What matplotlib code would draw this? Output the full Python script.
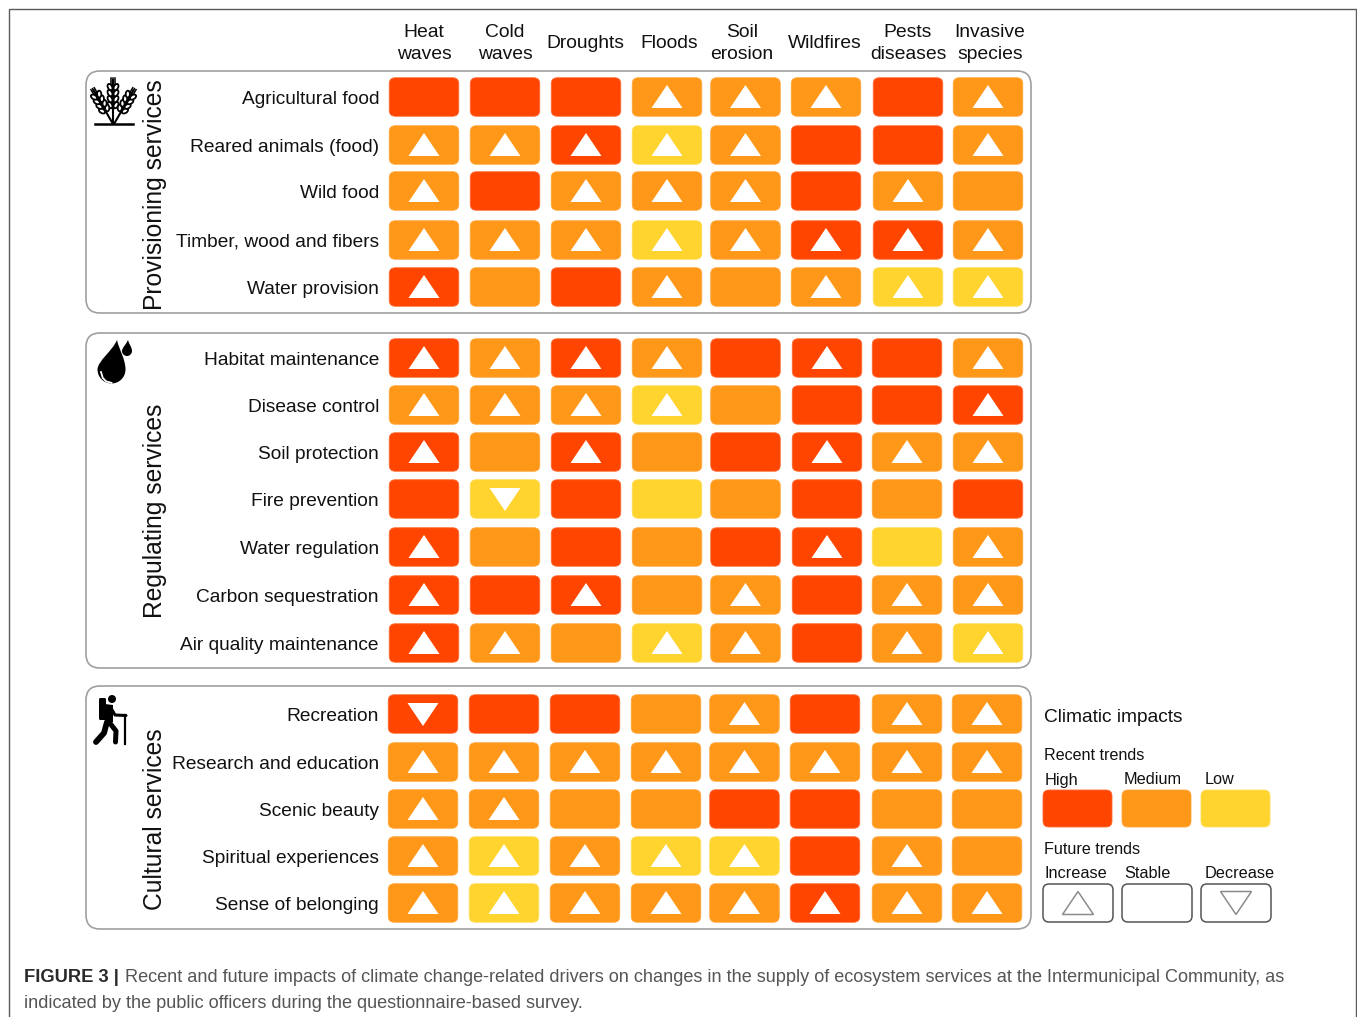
import numpy as np
import matplotlib
matplotlib.use("Agg")
import matplotlib.pyplot as plt
from matplotlib.patches import FancyBboxPatch, Polygon, Ellipse, Circle, PathPatch
from matplotlib.path import Path

plt.rcParams['font.family'] = ['Liberation Sans', 'DejaVu Sans']

# ---------- data ----------
drivers = ["Heat\nwaves", "Cold\nwaves", "Droughts", "Floods", "Soil\nerosion", "Wildfires", "Pests\ndiseases", "Invasive\nspecies"]

provisioning_services = ["Agricultural food", "Reared animals (food)", "Wild food", "Timber, wood and fibers", "Water provision"]
provisioning_impact = ["HHHMMMHM", "MMHLMHHM", "MHMMMHMM", "MMMLMHHM", "HMHMMMLL"]
provisioning_trend = ["SSSUUUSU", "UUUUUSSU", "USUUUSUS", "UUUUUUUU", "USSUSUUU"]

regulating_services = ["Habitat maintenance", "Disease control", "Soil protection", "Fire prevention", "Water regulation", "Carbon sequestration", "Air quality maintenance"]
regulating_impact = ["HMHMHHHM", "MMMLMHHH", "HMHMHHMM", "HLHLMHMH", "HMHMHHLM", "HHHMMHMM", "HMMLMHML"]
regulating_trend = ["UUUUSUSU", "UUUUSSSU", "USUSSUUU", "SDSSSSSS", "USSSSUSU", "USUSUSUU", "UUSUUSUU"]

cultural_services = ["Recreation", "Research and education", "Scenic beauty", "Spiritual experiences", "Sense of belonging"]
cultural_impact = ["HHHMMHMM", "MMMMMMMM", "MMMMHHMM", "MLMLLHMM", "MLMMMHMM"]
cultural_trend = ["DSSSUSUU", "UUUUUUUU", "UUSSSSSS", "UUUUUSUS", "UUUUUUUU"]

colors = {"H": "#FF4500", "M": "#FF9819", "L": "#FFD42E"}
edge_tint = {"H": "#FF6A33", "M": "#FFA63A", "L": "#FFDC55"}

# ---------- layout (pixels) ----------
W, H = 1357, 1017
fig = plt.figure(figsize=(W / 100, H / 100), dpi=100)
ax = fig.add_axes([0, 0, 1, 1])
ax.set_xlim(0, W)
ax.set_ylim(H, 0)
ax.axis("off")

col_x = [424, 505, 586, 667, 745.5, 826, 908, 988]
cell_w, cell_h = 69.5, 38.5
label_fs = 13.8
dark = "#111111"


def rbox(x0, y0, x1, y1, r, fc, ec, lw=1.0, z=2):
    p = FancyBboxPatch((x0, y0), x1 - x0, y1 - y0, boxstyle=f"round,pad=0,rounding_size={r}",
                       fc=fc, ec=ec, lw=lw, zorder=z)
    ax.add_patch(p)


def tri(cx, cy, up=True, w=31, h=23, fc="white", ec="none", lw=0.0, z=3):
    s = 1 if up else -1
    pts = [(cx, cy - s * h / 2), (cx - w / 2, cy + s * h / 2), (cx + w / 2, cy + s * h / 2)]
    ax.add_patch(Polygon(pts, closed=True, fc=fc, ec=ec, lw=lw, zorder=z, joinstyle="miter"))


def panel(y0, y1, rows_y, services, impact, trend, dx=0, col_dx=None):
    rbox(86, y0, 1031, y1, 14, "white", "#A0A0A0", lw=1.2, z=1)
    for i, (name, cy) in enumerate(zip(services, rows_y)):
        ax.text(379, cy + 2.3, name, ha="right", va="center", fontsize=label_fs, color=dark, zorder=4)
        for j, cx0 in enumerate(col_x):
            cx = cx0 + dx + (col_dx[j] if col_dx else 0)
            lv, tr = impact[i][j], trend[i][j]
            rbox(cx - cell_w / 2, cy - cell_h / 2, cx + cell_w / 2, cy + cell_h / 2, 6,
                 colors[lv], edge_tint[lv], lw=0.6)
            if tr == "U":
                tri(cx, cy - 0.5, True)
            elif tr == "D":
                tri(cx, cy + 0.5, False)


# outer figure frame
ax.plot([8.5, 8.5, 1356, 1356], [H, 9, 9, H], color="#5A5A5A", lw=1.0, zorder=0)

# column headers
header_x = [424, 505, 585, 669, 742, 825, 908, 990]
for name, x in zip(drivers, header_x):
    ax.text(x, 43.5, name, ha="center", va="center", fontsize=13.9, color=dark, linespacing=1.46, multialignment="center")

panel(71, 313, [97, 145, 191, 240, 287], provisioning_services, provisioning_impact, provisioning_trend)
panel(333, 668, [358, 405, 452, 499, 547, 595, 643], regulating_services, regulating_impact, regulating_trend,
      col_dx=[0, 0, 0, 0, 0, 1, -1, 0])
panel(686, 929, [714, 762, 809, 856, 903], cultural_services, cultural_impact, cultural_trend, dx=-1)

# group labels
for txt, cy in [("Provisioning services", 195), ("Regulating services", 511), ("Cultural services", 819.5)]:
    ax.text(155, cy, txt, rotation=90, ha="center", va="center", fontsize=17.7, color=dark, zorder=4)


# ---------- icons ----------
def wheat_ear(x0, y0, angle, length):
    """Ear of wheat growing from (x0, y0); angle in degrees from vertical."""
    a = np.radians(angle)
    ux, uy = np.sin(a), -np.cos(a)
    nx, ny = np.cos(a), np.sin(a)
    ax.plot([x0, x0 + ux * length], [y0, y0 + uy * length], color="black", lw=1.5, zorder=5, solid_capstyle="butt")
    for t in np.linspace(0.42, 0.82, 4):
        for sgn in (-1, 1):
            cx = x0 + ux * length * t + sgn * nx * 3.0
            cy = y0 + uy * length * t + sgn * ny * 3.0
            ax.add_patch(Ellipse((cx, cy), 4.2, 6.8, angle=angle + sgn * 28, fc="white", ec="black", lw=1.3, zorder=6))
    for s in (-1.9, 0, 1.9):
        ax.plot([x0 + ux * length * 0.85 + nx * s, x0 + ux * length * 1.02 + nx * s],
                [y0 + uy * length * 0.85 + ny * s, y0 + uy * length * 1.02 + ny * s],
                color="black", lw=1.1, zorder=5)


ax.plot([95, 133], [124, 124], color="black", lw=1.8, zorder=5)
wheat_ear(113, 124, 0, 45)
wheat_ear(113, 124, -30, 40)
wheat_ear(114, 124, 30, 40)


def drop(cx, cy, r, tipx, tipy, **kw):
    k = 0.5523 * r
    verts = [(tipx, tipy),
             (tipx + 0.15 * r, tipy + 0.7 * r), (cx + r, cy - 0.75 * r), (cx + r, cy),
             (cx + r, cy + k), (cx + k, cy + r), (cx, cy + r),
             (cx - k, cy + r), (cx - r, cy + k), (cx - r, cy),
             (cx - r, cy - 0.6 * r), (tipx - 0.3 * r, tipy + 0.75 * r), (tipx, tipy),
             (tipx, tipy)]
    codes = [Path.MOVETO] + [Path.CURVE4] * 12 + [Path.CLOSEPOLY]
    ax.add_patch(PathPatch(Path(verts, codes), **kw))


drop(111.5, 369.5, 14, 117, 340, fc="black", ec="none", zorder=5)
drop(127, 351, 5, 128, 340, fc="black", ec="none", zorder=5)
# highlight inside the big drop
ax.plot(101 + 7 * np.array([0, 0.25, 0.75, 1.5]), 372 + 7 * np.array([0, 0.85, 1.35, 1.55]),
        color="white", lw=1.3, zorder=6)

# hiker
ax.add_patch(Circle((112, 699), 4.0, fc="black", ec="none", zorder=5))
ax.add_patch(FancyBboxPatch((99, 698), 7, 22, boxstyle="round,pad=0,rounding_size=1.5", fc="black", ec="none", zorder=5))
ax.add_patch(Polygon([(105, 704), (113, 705), (113, 722), (105, 724)], fc="black", ec="none", zorder=5))
line_kw = dict(color="black", zorder=5, solid_capstyle="round", solid_joinstyle="round")
ax.plot([111, 115, 126], [708, 715, 715.5], lw=2.2, **line_kw)
ax.plot([124.5, 124.5], [715, 744], lw=1.6, color="black", zorder=5)
ax.plot([107, 104, 96], [722, 733, 742], lw=4.2, **line_kw)
ax.plot([109, 116, 115.5], [722, 731, 742], lw=3.6, **line_kw)

# ---------- legend ----------
ax.text(1044, 717, "Climatic impacts", ha="left", va="center", fontsize=13.75, color=dark)
ax.text(1044, 755, "Recent trends", ha="left", va="center", fontsize=11.6, color=dark)
ax.text(1044, 849.5, "Future trends", ha="left", va="center", fontsize=11.6, color=dark)

legend_x = [1043, 1122, 1201]
impact_names = ["High", "Medium", "Low"]
trend_names = ["Increase", "Stable", "Decrease"]
label_x = [1045, 1124, 1205]
for x0, lx, nm, key in zip(legend_x, label_x, impact_names, "HML"):
    ax.text(lx, 780, nm, ha="left", va="center", fontsize=11.7, color=dark)
    rbox(x0, 790, x0 + 69, 827, 6, colors[key], edge_tint[key], lw=0.6)
for x0, lx, nm, key in zip(legend_x, label_x, trend_names, "USD"):
    ax.text(lx, 873.5, nm, ha="left", va="center", fontsize=11.7, color=dark)
    rbox(x0, 884, x0 + 70, 922, 6, "white", "#555555", lw=1.1)
    if key != "S":
        tri(x0 + 35, 903, key == "U", w=31, h=23, fc="white", ec="#8C8C8C", lw=1.1)

# ---------- caption ----------
cap_bold = "FIGURE 3 |"
cap_l1 = "Recent and future impacts of climate change-related drivers on changes in the supply of ecosystem services at the Intermunicipal Community, as"
cap_l2 = "indicated by the public officers during the questionnaire-based survey."
ax.text(24, 977.5, cap_bold, ha="left", va="center", fontsize=13.2, fontweight="bold", color="#2A2A2A")
ax.text(125, 977.5, cap_l1, ha="left", va="center", fontsize=13.1, color="#555555")
ax.text(24, 1003, cap_l2, ha="left", va="center", fontsize=13.1, color="#555555")

fig.savefig("out.png", dpi=100, facecolor="white")
